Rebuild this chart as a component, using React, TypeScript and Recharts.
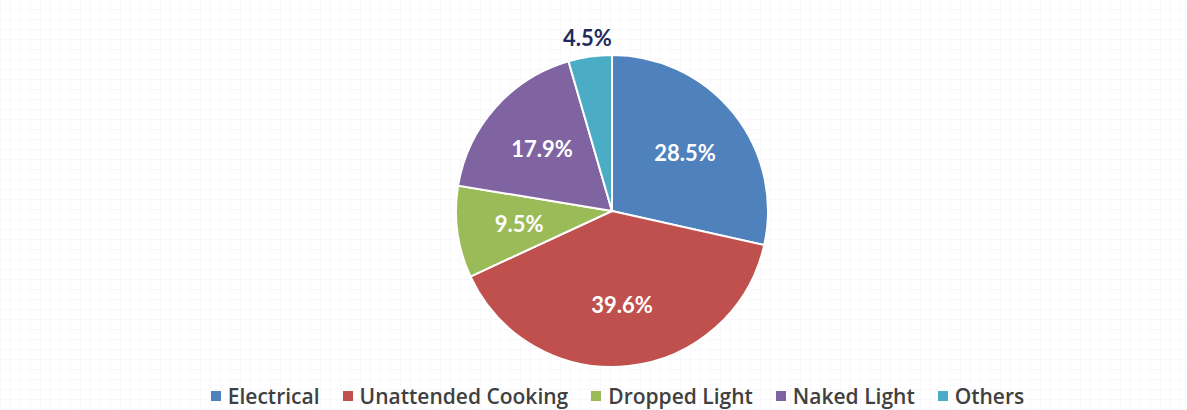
import React from "react";
import { PieChart, Pie, Cell, Legend } from "recharts";

const categories = ["Electrical", "Unattended Cooking", "Dropped Light", "Naked Light", "Others"];
const values = [28.5, 39.6, 9.5, 17.9, 4.5];
const colors = ["#4F81BD", "#C0504D", "#9BBB59", "#8064A2", "#4BACC6"];

const data = categories.map((name, i) => ({ name, value: values[i] }));

const RADIAN = Math.PI / 180;
const FONT = "Lato, 'Open Sans', sans-serif";

const renderLabel = (props: any) => {
  const { cx, cy, midAngle, outerRadius, value } = props;
  const outside = value < 5;
  const r = outside ? outerRadius + 19 : outerRadius * 0.6;
  const x = cx + r * Math.cos(-midAngle * RADIAN);
  const y = cy + r * Math.sin(-midAngle * RADIAN);
  return (
    <text
      x={x}
      y={y}
      textAnchor="middle"
      dominantBaseline="central"
      fill={outside ? "#1F2A5C" : "#FFFFFF"}
      fontFamily={FONT}
      fontWeight={700}
      fontSize={22}
    >
      {value.toFixed(1)}%
    </text>
  );
};

const renderLegend = () => (
  <div
    style={{
      display: "flex",
      justifyContent: "center",
      alignItems: "center",
      paddingLeft: 48,
      fontFamily: "'Open Sans', sans-serif",
      fontWeight: 600,
      fontSize: 21,
      color: "#404040",
    }}
  >
    {categories.map((c, i) => (
      <div key={c} style={{ display: "flex", alignItems: "center", marginRight: i < categories.length - 1 ? 23 : 0 }}>
        <span style={{ display: "inline-block", width: 10, height: 10, background: colors[i], marginRight: 7 }} />
        <span>{c}</span>
      </div>
    ))}
  </div>
);

export default function App() {
  return (
    <div
      style={{
        position: "absolute",
        left: 0,
        top: 0,
        width: 1187,
        height: 410,
        backgroundColor: "#ffffff",
        backgroundImage:
          "repeating-linear-gradient(0deg, #f8f8fa 0px, #f8f8fa 1px, transparent 1px, transparent 10px), repeating-linear-gradient(90deg, #f8f8fa 0px, #f8f8fa 1px, transparent 1px, transparent 10px)",
      }}
    >
      <PieChart width={1187} height={410} margin={{ top: 0, right: 0, bottom: 0, left: 0 }}>
        <Pie
          data={data}
          dataKey="value"
          nameKey="name"
          cx={612}
          cy={211}
          outerRadius={156}
          startAngle={90}
          endAngle={-270}
          stroke="#ffffff"
          strokeWidth={2}
          label={renderLabel}
          labelLine={false}
          isAnimationActive={false}
        >
          {data.map((d, i) => (
            <Cell key={d.name} fill={colors[i]} />
          ))}
        </Pie>
        <Legend
          verticalAlign="bottom"
          align="center"
          content={renderLegend}
          wrapperStyle={{ bottom: 0, left: 0, width: 1187 }}
        />
      </PieChart>
    </div>
  );
}
